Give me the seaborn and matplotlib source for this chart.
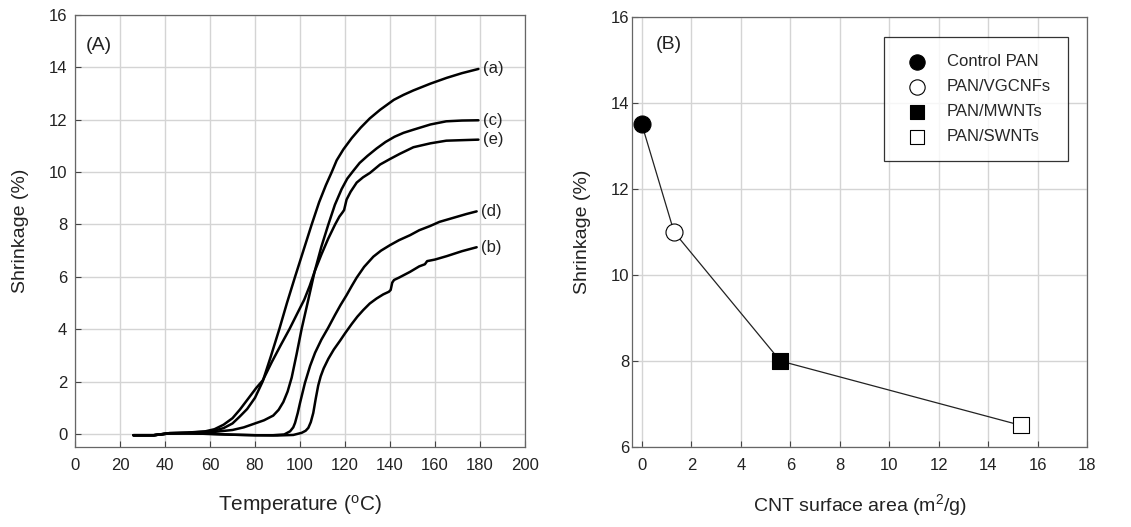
import matplotlib
matplotlib.use("Agg")
import matplotlib.pyplot as plt
import seaborn as sns
import pandas as pd

# ---------------- Panel A data (Temperature vs Shrinkage) ----------------
a_T = [26, 35, 42, 50, 58, 62, 66, 70, 73.3, 76.5, 80, 83.4, 87, 90.8, 94.2, 97.8, 101.5, 105.2, 108.5, 111.5,
       114.1, 116.3, 119.3, 123, 127, 131, 135.6, 141.7, 146, 150.4, 158, 165.2, 172, 179.3]
a_y = [-0.05, -0.05, 0.03, 0.05, 0.08, 0.13, 0.22, 0.4, 0.67, 0.95, 1.38, 2.0, 2.95, 4.0, 5.0, 6.0, 7.0, 8.0, 8.85, 9.5,
       10.0, 10.45, 10.87, 11.3, 11.7, 12.05, 12.38, 12.76, 12.95, 13.12, 13.38, 13.6, 13.78, 13.94]

e_T = [26, 35, 42, 50, 58, 62, 66, 70, 73.3, 77, 80.5, 83.5, 87.5, 91.5, 95.3, 98.5, 101.9, 104.3, 106.5, 109.5,
       112.5, 115.6, 117.5, 118.8, 119.6, 120.7, 122.5, 125.2, 128, 131.1, 135.6, 140, 144.4, 150.4, 158, 165, 172, 179.3]
e_y = [-0.05, -0.05, 0.03, 0.05, 0.1, 0.18, 0.35, 0.6, 0.93, 1.35, 1.75, 2.05, 2.75, 3.4, 4.0, 4.55, 5.13, 5.65, 6.2, 6.85,
       7.45, 8.0, 8.3, 8.45, 8.55, 8.95, 9.25, 9.6, 9.8, 9.97, 10.29, 10.5, 10.7, 10.95, 11.1, 11.2, 11.22, 11.24]

c_T = [26, 35, 42, 50, 60, 70, 75, 80, 84, 88.1, 90.5, 92.6, 94.5, 96.3, 98.5, 100.7, 103.7, 106.5, 109.5, 112.6,
       115.5, 118.5, 121, 123.7, 126.5, 130, 134, 138, 142, 146, 150.4, 158, 165, 172, 179.3]
c_y = [-0.05, -0.05, 0.02, 0.03, 0.06, 0.15, 0.25, 0.4, 0.52, 0.7, 0.92, 1.22, 1.62, 2.15, 3.05, 4.0, 5.13, 6.2, 7.15, 8.0,
       8.75, 9.35, 9.75, 10.05, 10.35, 10.62, 10.9, 11.15, 11.35, 11.5, 11.62, 11.82, 11.94, 11.97, 11.98]

d_T = [26, 35, 42, 50, 60, 70, 80, 88, 93, 95.6, 97, 97.8, 99, 100, 101.2, 102.2, 104.5, 106.7, 109.5, 112.5,
       115.6, 118, 120.7, 123, 125.2, 128.5, 132.6, 136, 140, 144, 148.9, 153, 157.8, 162, 166, 170, 174, 178.5]
d_y = [-0.05, -0.05, 0.02, 0.02, 0.0, -0.03, -0.05, -0.05, -0.02, 0.1, 0.25, 0.42, 0.8, 1.18, 1.6, 1.95, 2.6, 3.1, 3.6, 4.05,
       4.55, 4.92, 5.3, 5.65, 5.97, 6.38, 6.77, 7.0, 7.21, 7.4, 7.59, 7.78, 7.94, 8.1, 8.2, 8.3, 8.4, 8.5]

b_T = [26, 35, 42, 50, 60, 70, 80, 90, 97, 100.7, 102.5, 103.7, 104.8, 105.9, 107, 108.1, 109.2, 110.5, 112.6, 115,
       117.8, 120, 123, 125.5, 128.1, 131, 134, 137, 139.5, 140.3, 141, 141.8, 144, 148.9, 153, 155.5, 156.5, 160, 165.2, 172, 178.5]
b_y = [-0.05, -0.05, 0.02, 0.02, 0.0, -0.03, -0.05, -0.06, -0.04, 0.04, 0.12, 0.23, 0.45, 0.8, 1.35, 1.85, 2.2, 2.5, 2.87, 3.22,
       3.56, 3.84, 4.2, 4.48, 4.73, 4.98, 5.17, 5.33, 5.43, 5.5, 5.78, 5.88, 5.97, 6.19, 6.4, 6.48, 6.6, 6.66, 6.79, 6.98, 7.13]

curve_labels = ["(a)", "(b)", "(c)", "(d)", "(e)"]
curve_T = [a_T, b_T, c_T, d_T, e_T]
curve_y = [a_y, b_y, c_y, d_y, e_y]

# ---------------- Panel B data (CNT surface area vs Shrinkage) ----------------
samples = ["Control PAN", "PAN/VGCNFs", "PAN/MWNTs", "PAN/SWNTs"]
surface_area = [0.0, 1.3, 5.6, 15.35]
shrinkage = [13.5, 11.0, 8.0, 6.5]

xticks_A = list(range(0, 201, 20))
yticks_A = list(range(0, 17, 2))
xticks_B = list(range(0, 19, 2))
yticks_B = list(range(6, 17, 2))

# ---------------- Styling ----------------
sns.set_theme(style="whitegrid")
plt.rcParams["font.family"] = ["Liberation Sans", "DejaVu Sans"]
plt.rcParams["mathtext.fontset"] = "custom"
plt.rcParams["mathtext.rm"] = "Liberation Sans"
plt.rcParams["mathtext.it"] = "Liberation Sans"

fig = plt.figure(figsize=(11.31, 5.27), dpi=100)
axA = fig.add_axes([0.0663, 0.1518, 0.3979, 0.8197])
axB = fig.add_axes([0.5588, 0.1518, 0.4023, 0.8160])

grid_kw = dict(color="#d4d4d4", linewidth=1.0)
for ax in (axA, axB):
    ax.set_facecolor("white")
    ax.grid(True, **grid_kw)
    for s in ax.spines.values():
        s.set_color("#666666")
        s.set_linewidth(0.9)
    ax.tick_params(axis="both", direction="in", length=4, width=0.8, color="#444444",
                   labelsize=12, labelcolor="#222222")
    ax.tick_params(axis="both", which="both", bottom=True, left=True)
    ax.tick_params(axis="x", pad=8)
axA.tick_params(axis="y", pad=5.5)
axB.tick_params(axis="y", pad=2)

# Panel A
rows = []
for lab, Ts, ys in zip(curve_labels, curve_T, curve_y):
    for t, y in zip(Ts, ys):
        rows.append({"curve": lab, "T": t, "y": y})
dfA = pd.DataFrame(rows)
sns.lineplot(data=dfA, x="T", y="y", units="curve", estimator=None, sort=False,
             color="black", linewidth=1.8, ax=axA, legend=False)
for lab, Ts, ys in zip(curve_labels, curve_T, curve_y):
    axA.text(Ts[-1] + 2.0, ys[-1], lab, fontsize=12, va="center", ha="left", color="#222222")

axA.set_xlim(0, 200)
axA.set_ylim(-0.5, 16)
axA.set_xticks(xticks_A)
axA.set_yticks(yticks_A)
axA.set_xlabel("Temperature ($\\mathregular{^{o}}$C)", fontsize=15, labelpad=14, color="#222222")
axA.set_ylabel("Shrinkage (%)", fontsize=14, labelpad=14, color="#222222")
axA.text(5, 14.85, "(A)", fontsize=14, va="center", ha="left", color="#222222")

# Panel B
dfB = pd.DataFrame({"sample": samples, "area": surface_area, "shrink": shrinkage})
sns.lineplot(data=dfB, x="area", y="shrink", sort=False, color="#222222", linewidth=0.9, ax=axB,
             legend=False, zorder=2)
marker_styles = {
    "Control PAN": dict(marker="o", fc="black", s=150),
    "PAN/VGCNFs": dict(marker="o", fc="white", s=150),
    "PAN/MWNTs": dict(marker="s", fc="black", s=120),
    "PAN/SWNTs": dict(marker="s", fc="white", s=120),
}
for i, name in enumerate(samples):
    st = marker_styles[name]
    sns.scatterplot(x=[surface_area[i]], y=[shrinkage[i]], marker=st["marker"], s=st["s"],
                    facecolor=st["fc"], edgecolor="black", linewidth=0.8, ax=axB, label=name, zorder=3)

axB.set_xlim(-0.4, 18)
axB.set_ylim(6, 16)
axB.set_xticks(xticks_B)
axB.set_yticks(yticks_B)
axB.set_xlabel("CNT surface area (m$\\mathregular{^{2}}$/g)", fontsize=14, labelpad=14, color="#222222")
axB.set_ylabel("Shrinkage (%)", fontsize=14, labelpad=14, color="#222222")
axB.text(0.55, 15.35, "(B)", fontsize=14, va="center", ha="left", color="#222222")
leg = axB.legend(loc="upper right", fontsize=12, frameon=True, fancybox=False, edgecolor="black",
                 borderpad=1.0, labelspacing=0.6, handletextpad=0.8, markerscale=0.9,
                 bbox_to_anchor=(0.976, 0.972))
leg.get_frame().set_linewidth(0.9)

fig.savefig("out.png", dpi=100, facecolor="white")
